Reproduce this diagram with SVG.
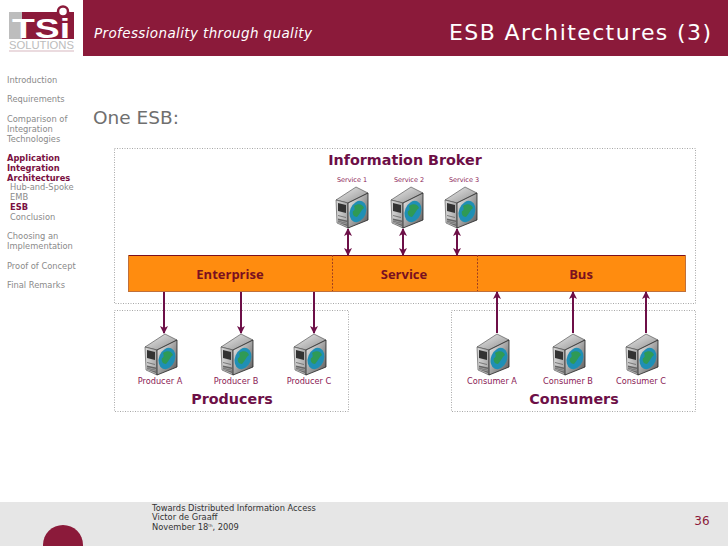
<svg xmlns="http://www.w3.org/2000/svg" width="728" height="546" viewBox="0 0 728 546">
<style>
text{font-family:"DejaVu Sans",Verdana,sans-serif}
.nav{font-size:8.3px;fill:#8a8a8a}
.navon{font-size:8.3px;fill:#7a1042;font-weight:bold}
.lab{font-size:8.2px;fill:#8a1a55;text-anchor:middle}
.svc{font-size:6.5px;fill:#8a1a55;text-anchor:middle}
.title{font-size:14.3px;font-weight:bold;fill:#6d0f47;text-anchor:middle}
.bus{font-family:"Open Sans","DejaVu Sans",sans-serif;font-size:13px;font-weight:bold;fill:#7a1020;text-anchor:middle}
.box{fill:none;stroke:#a8a8a8;stroke-width:1;stroke-dasharray:1 1.500}
.ar{stroke:#6d0f47;stroke-width:2;fill:none}
.foot{font-size:8.3px;fill:#333}
</style>
<defs>
<marker id="ah" markerUnits="userSpaceOnUse" markerWidth="9" markerHeight="9" refX="7" refY="4" orient="auto-start-reverse"><path d="M0 0L8 4L0 8L2 4Z" fill="#6d0f47"/></marker>
<linearGradient id="gt" x1="0" y1="0" x2="1" y2="1"><stop offset="0" stop-color="#eeeeee"/><stop offset="1" stop-color="#8f8f8f"/></linearGradient>
<linearGradient id="gl" x1="0" y1="0" x2="1" y2="0"><stop offset="0" stop-color="#d8d8d8"/><stop offset="1" stop-color="#a8a8a8"/></linearGradient>
<linearGradient id="gr" x1="0" y1="0" x2="1" y2="1"><stop offset="0" stop-color="#f2f2f2"/><stop offset="1" stop-color="#555555"/></linearGradient>
<g id="srv">
<path d="M0 13L20 0L32 6L12 16Z" fill="url(#gt)" stroke="#444" stroke-width=".6"/>
<path d="M0 13L12 16V41L1 36Z" fill="url(#gl)" stroke="#444" stroke-width=".6"/>
<path d="M12 16L32 6V33L12 41Z" fill="url(#gr)" stroke="#222" stroke-width=".8"/>
<path d="M2 16L10 18V26L2 24Z" fill="#333"/>
<path d="M2 28L10 30V31L2 29Z" fill="#777"/>
<path d="M2 31.500L11 33.500V39L2 35.500Z" fill="#666"/>
<path d="M2 33.500L11 35.500M2 35L11 37" stroke="#ccc" stroke-width=".5"/>
<ellipse cx="22" cy="24.500" rx="8" ry="11" transform="rotate(22 22 24.500)" fill="#1f8fb5"/>
<path d="M18 19C22 16 27 17 28 21C25 23 24 27 21 30C18 30 16 27 17 24C19 24 19 21 18 19Z" fill="#2f9a55"/>
</g>
</defs>

<rect x="83" y="0" width="645" height="56" fill="#8b1a3a"/>
<rect x="0" y="502" width="728" height="44" fill="#e6e6e6"/>
<circle cx="63" cy="545" r="20" fill="#8b1a3a"/>

<g id="logo">
<rect x="9" y="12" width="65" height="27" fill="#8b1a3a"/>
<rect x="9" y="12" width="13" height="27" fill="#bdbdbd"/>
<circle cx="63" cy="11.500" r="5" fill="#fff" stroke="#8b1a3a" stroke-width="2.500"/>
<text x="12" y="37.500" font-size="27" font-weight="bold" fill="#fff" textLength="58" lengthAdjust="spacingAndGlyphs" style="font-family:'Liberation Sans',sans-serif">TSi</text>
<text x="9" y="49" font-size="11" fill="#bcbcbc" textLength="65" lengthAdjust="spacingAndGlyphs" style="font-family:'Liberation Sans',sans-serif">SOLUTIONS</text>
<rect x="9" y="50.500" width="65" height="1" fill="#d8b8c0"/>
</g>

<text x="94" y="38" font-size="13.500" font-style="italic" fill="#fff" textLength="218">Professionality through quality</text>
<text x="449" y="40" font-size="22" fill="#fff" textLength="262">ESB Architectures (3)</text>
<text x="93" y="124" font-size="18.500" fill="#6f6f6f">One ESB:</text>

<g id="menu">
<text class="nav" x="7" y="83">Introduction</text>
<text class="nav" x="7" y="102">Requirements</text>
<text class="nav" x="7" y="122">Comparison of</text>
<text class="nav" x="7" y="132">Integration</text>
<text class="nav" x="7" y="142">Technologies</text>
<text class="navon" x="7" y="161">Application</text>
<text class="navon" x="7" y="171">Integration</text>
<text class="navon" x="7" y="181">Architectures</text>
<text class="nav" x="10" y="190">Hub-and-Spoke</text>
<text class="nav" x="10" y="200">EMB</text>
<text class="navon" x="10" y="210">ESB</text>
<text class="nav" x="10" y="220">Conclusion</text>
<text class="nav" x="7" y="239">Choosing an</text>
<text class="nav" x="7" y="249">Implementation</text>
<text class="nav" x="7" y="269">Proof of Concept</text>
<text class="nav" x="7" y="288">Final Remarks</text>
</g>

<rect class="box" x="114.500" y="148.500" width="581" height="155"/>
<rect class="box" x="114.500" y="310.500" width="234" height="101"/>
<rect class="box" x="451.500" y="310.500" width="244" height="101"/>

<g id="bus">
<rect x="128" y="255" width="558" height="36.500" fill="#ff8c0f"/>
<path d="M128 255.500H686" stroke="#7a1020" stroke-width="1"/>
<path d="M128 291.500H686" stroke="#c0703a" stroke-width="1"/>
<path d="M128.500 255V291M685.500 255V291" stroke="#c0703a" stroke-width="1"/>
<path d="M332.500 255V291M477.500 255V291" stroke="#a04020" stroke-width="1" stroke-dasharray="2 1.500"/>
<text class="bus" x="230" y="279">Enterprise</text>
<text class="bus" x="404" y="279">Service</text>
<text class="bus" x="581" y="279">Bus</text>
</g>

<g id="connectors">
<path class="ar" d="M348 229V255" marker-start="url(#ah)" marker-end="url(#ah)"/>
<path class="ar" d="M403 229V255" marker-start="url(#ah)" marker-end="url(#ah)"/>
<path class="ar" d="M457 229V255" marker-start="url(#ah)" marker-end="url(#ah)"/>
<path class="ar" d="M164 292V333" marker-end="url(#ah)"/>
<path class="ar" d="M241 292V333" marker-end="url(#ah)"/>
<path class="ar" d="M314 292V333" marker-end="url(#ah)"/>
<path class="ar" d="M497 333V292" marker-end="url(#ah)"/>
<path class="ar" d="M573 333V292" marker-end="url(#ah)"/>
<path class="ar" d="M646 333V292" marker-end="url(#ah)"/>
</g>

<g id="broker">
<text class="title" x="405" y="165">Information Broker</text>
</g>
<g id="service1"><text class="svc" x="352" y="182">Service 1</text><use href="#srv" x="336" y="187"/></g>
<g id="service2"><text class="svc" x="409" y="182">Service 2</text><use href="#srv" x="391" y="187"/></g>
<g id="service3"><text class="svc" x="464" y="182">Service 3</text><use href="#srv" x="445" y="187"/></g>
<g id="producerA"><use href="#srv" x="145" y="334"/><text class="lab" x="160" y="384">Producer A</text></g>
<g id="producerB"><use href="#srv" x="221" y="334"/><text class="lab" x="236" y="384">Producer B</text></g>
<g id="producerC"><use href="#srv" x="294" y="334"/><text class="lab" x="309" y="384">Producer C</text></g>
<g id="consumerA"><use href="#srv" x="477" y="334"/><text class="lab" x="492" y="384">Consumer A</text></g>
<g id="consumerB"><use href="#srv" x="553" y="334"/><text class="lab" x="568" y="384">Consumer B</text></g>
<g id="consumerC"><use href="#srv" x="626" y="334"/><text class="lab" x="641" y="384">Consumer C</text></g>
<g id="producers"><text class="title" x="232" y="404">Producers</text></g>
<g id="consumers"><text class="title" x="574" y="404">Consumers</text></g>

<g id="footer">
<text class="foot" x="152" y="511">Towards Distributed Information Access</text>
<text class="foot" x="152" y="520">Victor de Graaff</text>
<text class="foot" x="152" y="530">November 18<tspan font-size="4" dy="-3">th</tspan><tspan dy="3">, 2009</tspan></text>
<text x="702" y="525" font-size="12" fill="#8b1a3a" text-anchor="middle">36</text>
</g>
</svg>
